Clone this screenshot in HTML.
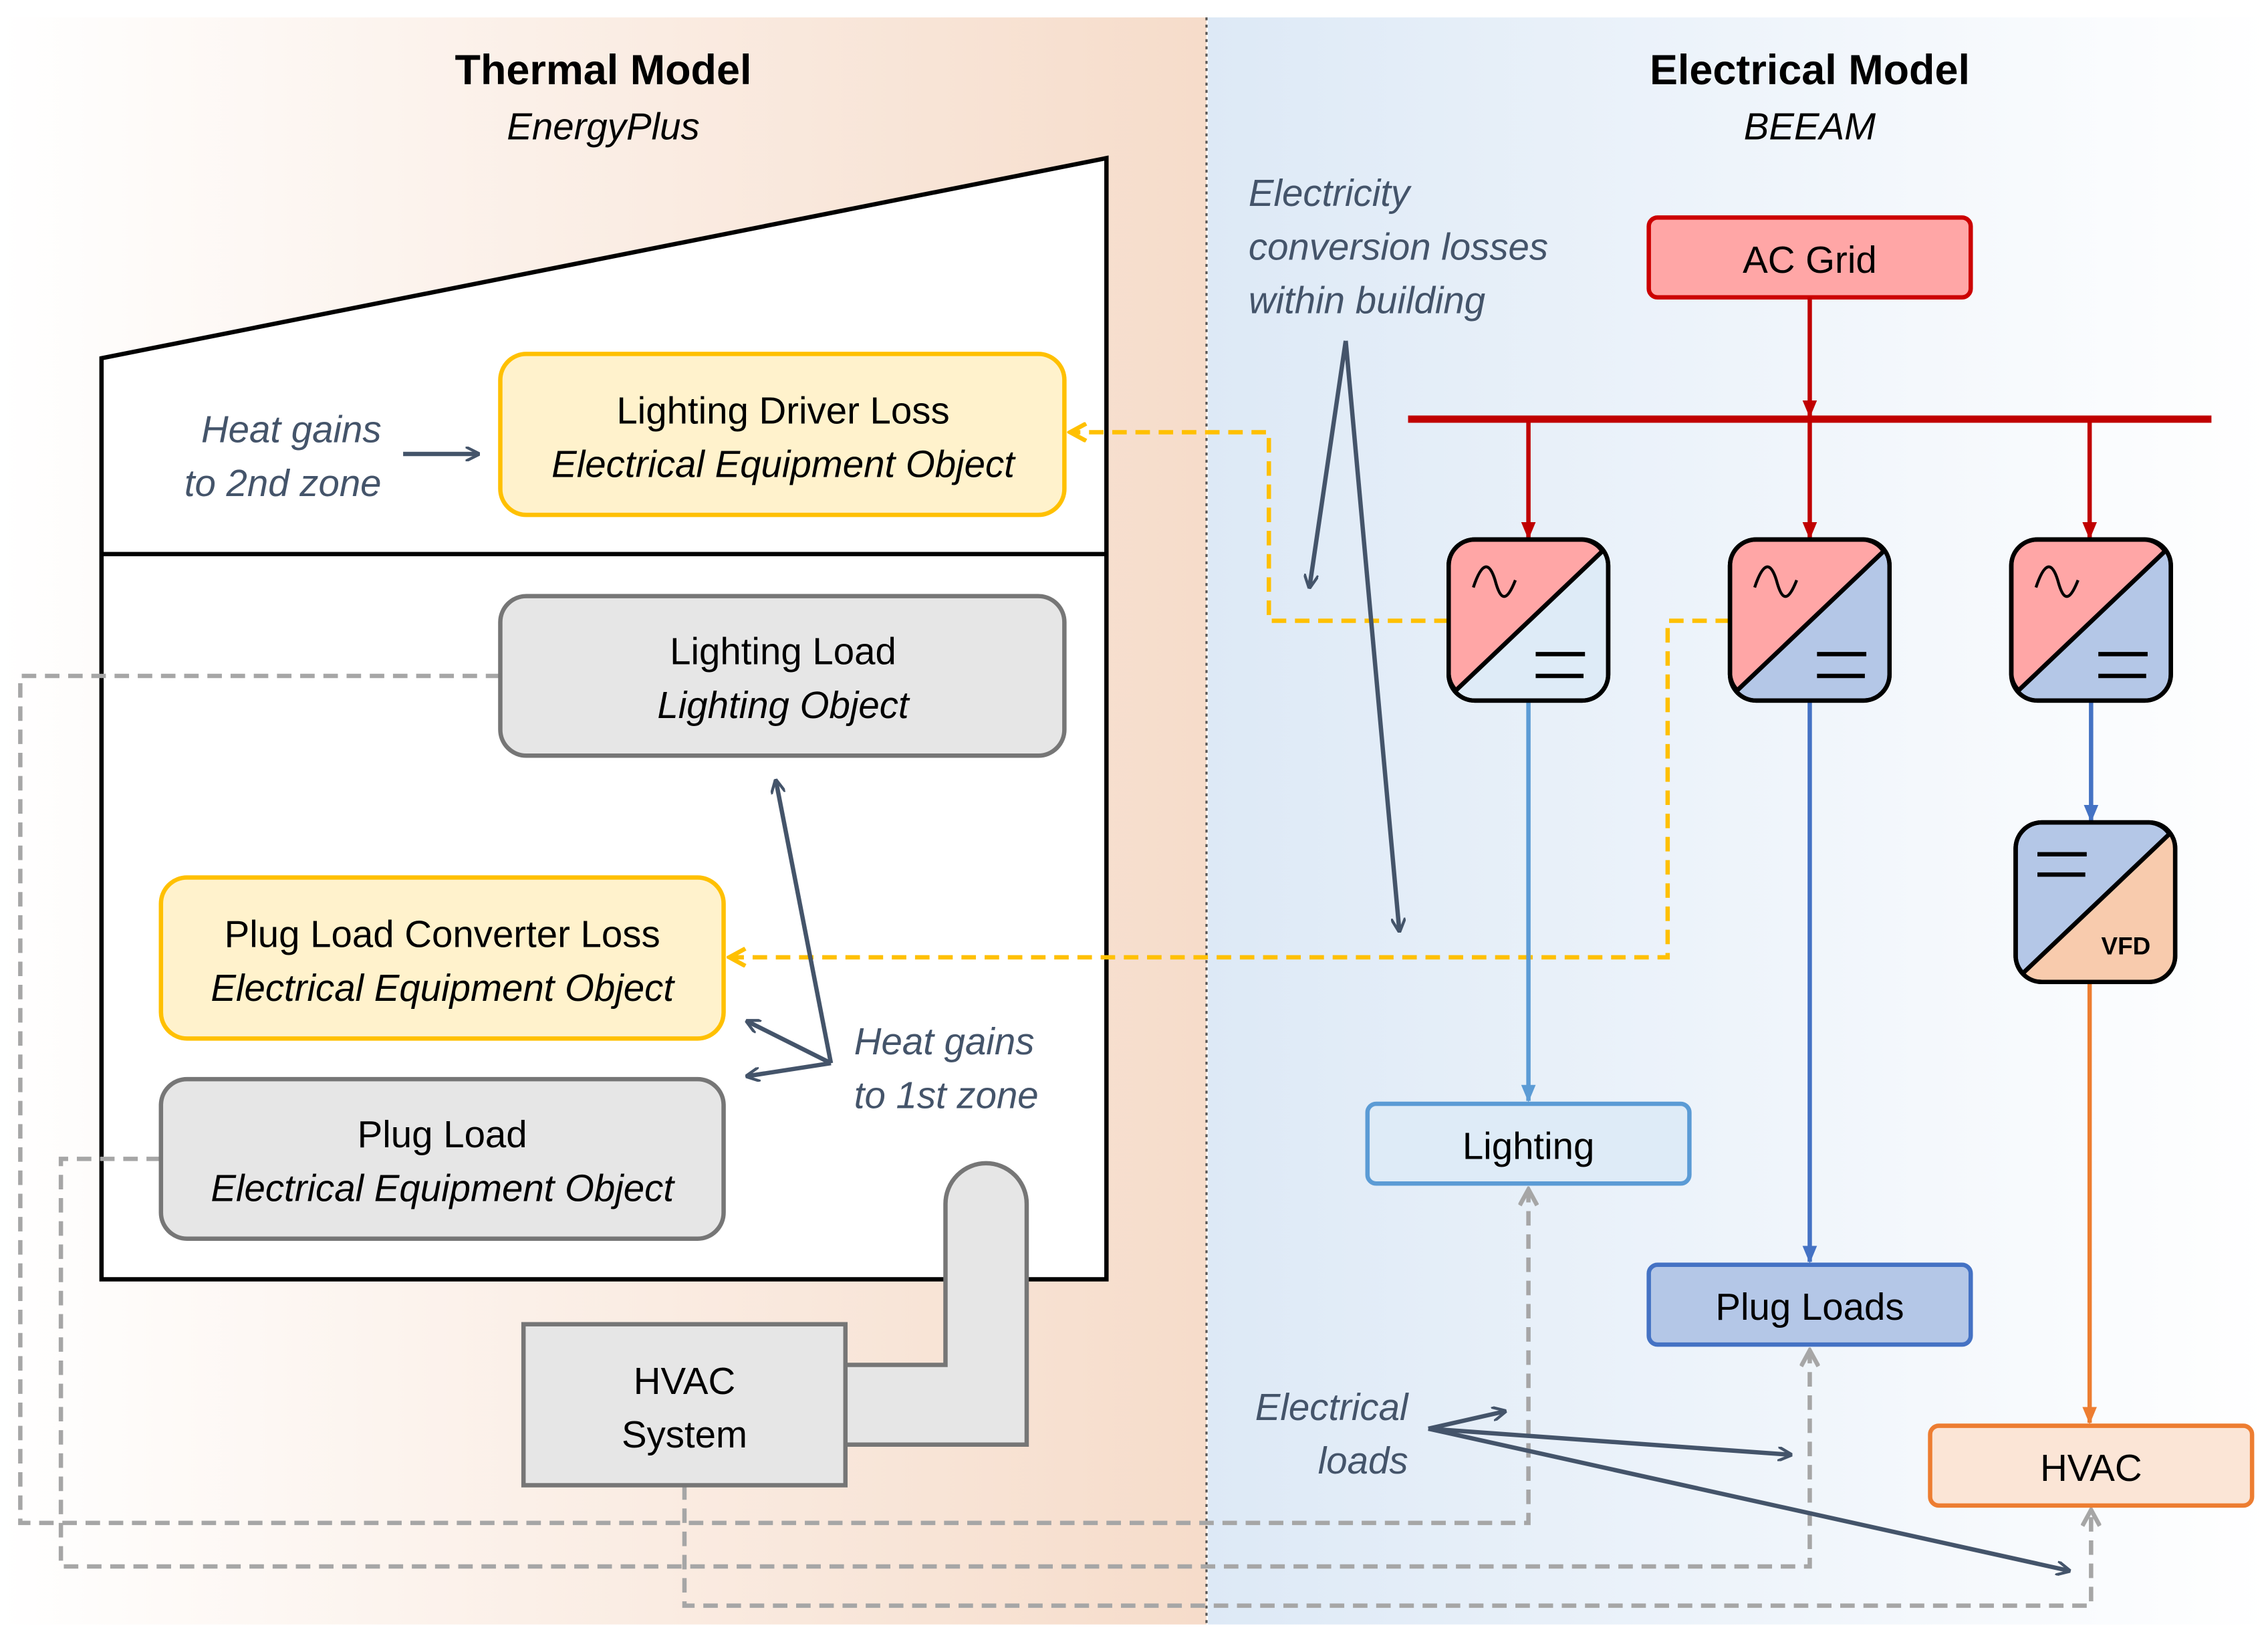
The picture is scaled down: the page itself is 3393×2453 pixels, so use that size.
<!DOCTYPE html>
<html><head><meta charset="utf-8"><style>html,body{margin:0;padding:0;background:#fff}svg{display:block}</style></head><body>
<svg xmlns="http://www.w3.org/2000/svg" width="3393" height="2453" viewBox="0 0 1564 1130.7" font-family="'Liberation Sans', sans-serif">
<defs>
<linearGradient id="lg" x1="0" x2="1" y1="0" y2="0"><stop offset="0" stop-color="#fff"/><stop offset="1" stop-color="#f6dcca"/></linearGradient>
<linearGradient id="rg" x1="0" x2="1" y1="0" y2="0"><stop offset="0" stop-color="#dde9f6"/><stop offset="1" stop-color="#fff"/></linearGradient>
<marker id="ad" markerWidth="10" markerHeight="10" refX="9" refY="5" orient="auto" markerUnits="userSpaceOnUse" viewBox="0 0 10 10"><path d="M0,0 L10,5 L0,10" fill="none" stroke="#44546a" stroke-width="2"/></marker>
<marker id="ag" markerWidth="14" markerHeight="14" refX="12" refY="7" orient="auto" markerUnits="userSpaceOnUse" viewBox="0 0 14 14"><path d="M1,1 L12,7 L1,13" fill="none" stroke="#a6a6a6" stroke-width="3"/></marker>
<marker id="ay" markerWidth="14" markerHeight="14" refX="12" refY="7" orient="auto" markerUnits="userSpaceOnUse" viewBox="0 0 14 14"><path d="M1,1 L12,7 L1,13" fill="none" stroke="#ffc000" stroke-width="3"/></marker>
<marker id="ar" markerWidth="12" markerHeight="12" refX="11" refY="6" orient="auto" markerUnits="userSpaceOnUse" viewBox="0 0 12 12"><path d="M0,1 L12,6 L0,11 Z" fill="#c00000"/></marker>
<marker id="ab" markerWidth="12" markerHeight="12" refX="11" refY="6" orient="auto" markerUnits="userSpaceOnUse" viewBox="0 0 12 12"><path d="M0,1 L12,6 L0,11 Z" fill="#4472c4"/></marker>
<marker id="alb" markerWidth="12" markerHeight="12" refX="11" refY="6" orient="auto" markerUnits="userSpaceOnUse" viewBox="0 0 12 12"><path d="M0,1 L12,6 L0,11 Z" fill="#5b9bd5"/></marker>
<marker id="ao" markerWidth="12" markerHeight="12" refX="11" refY="6" orient="auto" markerUnits="userSpaceOnUse" viewBox="0 0 12 12"><path d="M0,1 L12,6 L0,11 Z" fill="#ed7d31"/></marker>
</defs>
<rect x="0" y="12" width="832" height="1108" fill="url(#lg)"/>
<rect x="833" y="12" width="731" height="1108" fill="url(#rg)"/>
<line x1="832" y1="12" x2="832" y2="1120" stroke="#555" stroke-width="1.5" stroke-dasharray="2,3"/>

<text x="416" y="58" font-size="29" font-weight="bold" text-anchor="middle">Thermal Model</text>
<text x="416" y="96" font-size="26" font-style="italic" text-anchor="middle">EnergyPlus</text>
<text x="1248" y="58" font-size="29" font-weight="bold" text-anchor="middle">Electrical Model</text>
<text x="1248" y="96" font-size="26" font-style="italic" text-anchor="middle">BEEAM</text>

<!-- building -->
<polygon points="70,247 763,109 763,882 70,882" fill="#fff" stroke="#000" stroke-width="3"/>
<line x1="70" y1="382" x2="763" y2="382" stroke="#000" stroke-width="3"/>

<!-- grey dashed -->
<g fill="none" stroke="#a6a6a6" stroke-width="3" stroke-dasharray="10,6">
<path d="M345,466 H14 V1050 H1054 V820" marker-end="url(#ag)"/>
<path d="M111,799 H42 V1080 H1248 V931" marker-end="url(#ag)"/>
<path d="M472,1024 V1107 H1442 V1041" marker-end="url(#ag)"/>
</g>
<!-- yellow dashed -->
<g fill="none" stroke="#ffc000" stroke-width="3" stroke-dasharray="10,6">
<path d="M999,428 H875 V298 H738" marker-end="url(#ay)"/>
<path d="M1193,428 H1150 V660 H503" marker-end="url(#ay)"/>
</g>

<!-- boxes left -->
<g font-size="26" text-anchor="middle">
<rect x="345" y="244" width="389" height="111" rx="18" fill="#fff2cc" stroke="#ffc000" stroke-width="3"/>
<text x="540" y="292">Lighting Driver Loss</text><text x="540" y="329" font-style="italic">Electrical Equipment Object</text>
<rect x="345" y="411" width="389" height="110" rx="18" fill="#e6e6e6" stroke="#767676" stroke-width="3"/>
<text x="540" y="458">Lighting Load</text><text x="540" y="495" font-style="italic">Lighting Object</text>
<rect x="111" y="605" width="388" height="111" rx="18" fill="#fff2cc" stroke="#ffc000" stroke-width="3"/>
<text x="305" y="653">Plug Load Converter Loss</text><text x="305" y="690" font-style="italic">Electrical Equipment Object</text>
<rect x="111" y="744" width="388" height="110" rx="18" fill="#e6e6e6" stroke="#767676" stroke-width="3"/>
<text x="305" y="791">Plug Load</text><text x="305" y="828" font-style="italic">Electrical Equipment Object</text>
<path d="M583,941 H652 V830 A28,28 0 0 1 708,830 V996 H583 Z" fill="#e6e6e6" stroke="#767676" stroke-width="3"/>
<rect x="361" y="913" width="222" height="111" fill="#e6e6e6" stroke="#767676" stroke-width="3"/>
<text x="472" y="961">HVAC</text><text x="472" y="998">System</text>
</g>

<!-- annotations -->
<g font-size="26" font-style="italic" fill="#44546a">
<text x="263" y="305" text-anchor="end">Heat gains</text><text x="263" y="342" text-anchor="end">to 2nd zone</text>
<text x="589" y="727">Heat gains</text><text x="589" y="764">to 1st zone</text>
<text x="861" y="142">Electricity</text><text x="861" y="179">conversion losses</text><text x="861" y="216">within building</text>
<text x="971" y="979" text-anchor="end">Electrical</text><text x="971" y="1016" text-anchor="end">loads</text>
</g>
<g stroke="#44546a" stroke-width="3" fill="none">
<line x1="278" y1="313" x2="330" y2="313" marker-end="url(#ad)"/>
<line x1="928" y1="235" x2="903" y2="405" marker-end="url(#ad)"/>
<line x1="928" y1="235" x2="965" y2="642" marker-end="url(#ad)"/>
<line x1="573" y1="733" x2="535" y2="538" marker-end="url(#ad)"/>
<line x1="573" y1="733" x2="515" y2="704" marker-end="url(#ad)"/>
<line x1="573" y1="733" x2="515" y2="742" marker-end="url(#ad)"/>
<line x1="985" y1="985" x2="1038" y2="973" marker-end="url(#ad)"/>
<line x1="985" y1="985" x2="1235" y2="1003" marker-end="url(#ad)"/>
<line x1="985" y1="985" x2="1427" y2="1083" marker-end="url(#ad)"/>
</g>

<!-- right side -->
<rect x="1137" y="150" width="222" height="55" rx="6" fill="#ffa6a6" stroke="#cc0000" stroke-width="3"/>
<text x="1248" y="188" font-size="26" text-anchor="middle">AC Grid</text>
<line x1="971" y1="289" x2="1525" y2="289" stroke="#c00000" stroke-width="5"/>
<g stroke="#c00000" stroke-width="3">
<line x1="1248" y1="205" x2="1248" y2="287" marker-end="url(#ar)"/>
<line x1="1054" y1="289" x2="1054" y2="371" marker-end="url(#ar)"/>
<line x1="1248" y1="289" x2="1248" y2="371" marker-end="url(#ar)"/>
<line x1="1441" y1="289" x2="1441" y2="371" marker-end="url(#ar)"/>
</g>
<line x1="1054" y1="483" x2="1054" y2="759" stroke="#5b9bd5" stroke-width="3" marker-end="url(#alb)"/>
<line x1="1248" y1="483" x2="1248" y2="870" stroke="#4472c4" stroke-width="3" marker-end="url(#ab)"/>
<line x1="1442" y1="483" x2="1442" y2="566" stroke="#4472c4" stroke-width="3" marker-end="url(#ab)"/>
<line x1="1441" y1="677" x2="1441" y2="981" stroke="#ed7d31" stroke-width="3" marker-end="url(#ao)"/>

<!-- converters -->
<g stroke="#000" stroke-width="3">
<g transform="translate(999,372)">
<rect x="0" y="0" width="110" height="111" rx="18" fill="#deebf7"/>
<path d="M0,18 A18,18 0 0 1 18,0 H92 A18,18 0 0 1 106,8 L5,104 A18,18 0 0 1 0,93 Z" fill="#ffa6a6"/>
<rect x="0" y="0" width="110" height="111" rx="18" fill="none"/>
<line x1="106" y1="8" x2="5" y2="104"/>
<path d="M17,33 C23,15 28,15 32,28 C36,43 40,43 46,28" fill="none" stroke-width="2"/>
<line x1="60" y1="79" x2="94" y2="79"/><line x1="60" y1="94" x2="93" y2="94"/>
</g>
<g transform="translate(1193,372)">
<rect x="0" y="0" width="110" height="111" rx="18" fill="#b4c7e7"/>
<path d="M0,18 A18,18 0 0 1 18,0 H92 A18,18 0 0 1 106,8 L5,104 A18,18 0 0 1 0,93 Z" fill="#ffa6a6"/>
<rect x="0" y="0" width="110" height="111" rx="18" fill="none"/>
<line x1="106" y1="8" x2="5" y2="104"/>
<path d="M17,33 C23,15 28,15 32,28 C36,43 40,43 46,28" fill="none" stroke-width="2"/>
<line x1="60" y1="79" x2="94" y2="79"/><line x1="60" y1="94" x2="93" y2="94"/>
</g>
<g transform="translate(1387,372)">
<rect x="0" y="0" width="110" height="111" rx="18" fill="#b4c7e7"/>
<path d="M0,18 A18,18 0 0 1 18,0 H92 A18,18 0 0 1 106,8 L5,104 A18,18 0 0 1 0,93 Z" fill="#ffa6a6"/>
<rect x="0" y="0" width="110" height="111" rx="18" fill="none"/>
<line x1="106" y1="8" x2="5" y2="104"/>
<path d="M17,33 C23,15 28,15 32,28 C36,43 40,43 46,28" fill="none" stroke-width="2"/>
<line x1="60" y1="79" x2="94" y2="79"/><line x1="60" y1="94" x2="93" y2="94"/>
</g>
<g transform="translate(1390,567)">
<rect x="0" y="0" width="110" height="110" rx="18" fill="#f8cbad"/>
<path d="M0,18 A18,18 0 0 1 18,0 H92 A18,18 0 0 1 106,8 L5,104 A18,18 0 0 1 0,93 Z" fill="#b4c7e7"/>
<rect x="0" y="0" width="110" height="110" rx="18" fill="none"/>
<line x1="106" y1="8" x2="5" y2="104"/>
<line x1="15" y1="22" x2="49" y2="22"/><line x1="15" y1="36" x2="48" y2="36"/>
</g>
</g>
<text x="1466" y="658" font-size="17" font-weight="bold" text-anchor="middle">VFD</text>

<g font-size="26" text-anchor="middle">
<rect x="943" y="761" width="222" height="55" rx="6" fill="#deebf7" stroke="#5b9bd5" stroke-width="3"/>
<text x="1054" y="799">Lighting</text>
<rect x="1137" y="872" width="222" height="55" rx="6" fill="#b4c7e7" stroke="#4472c4" stroke-width="3"/>
<text x="1248" y="910">Plug Loads</text>
<rect x="1331" y="983" width="222" height="55" rx="6" fill="#fbe5d6" stroke="#ed7d31" stroke-width="3"/>
<text x="1442" y="1021">HVAC</text>
</g>
</svg>
</body></html>
